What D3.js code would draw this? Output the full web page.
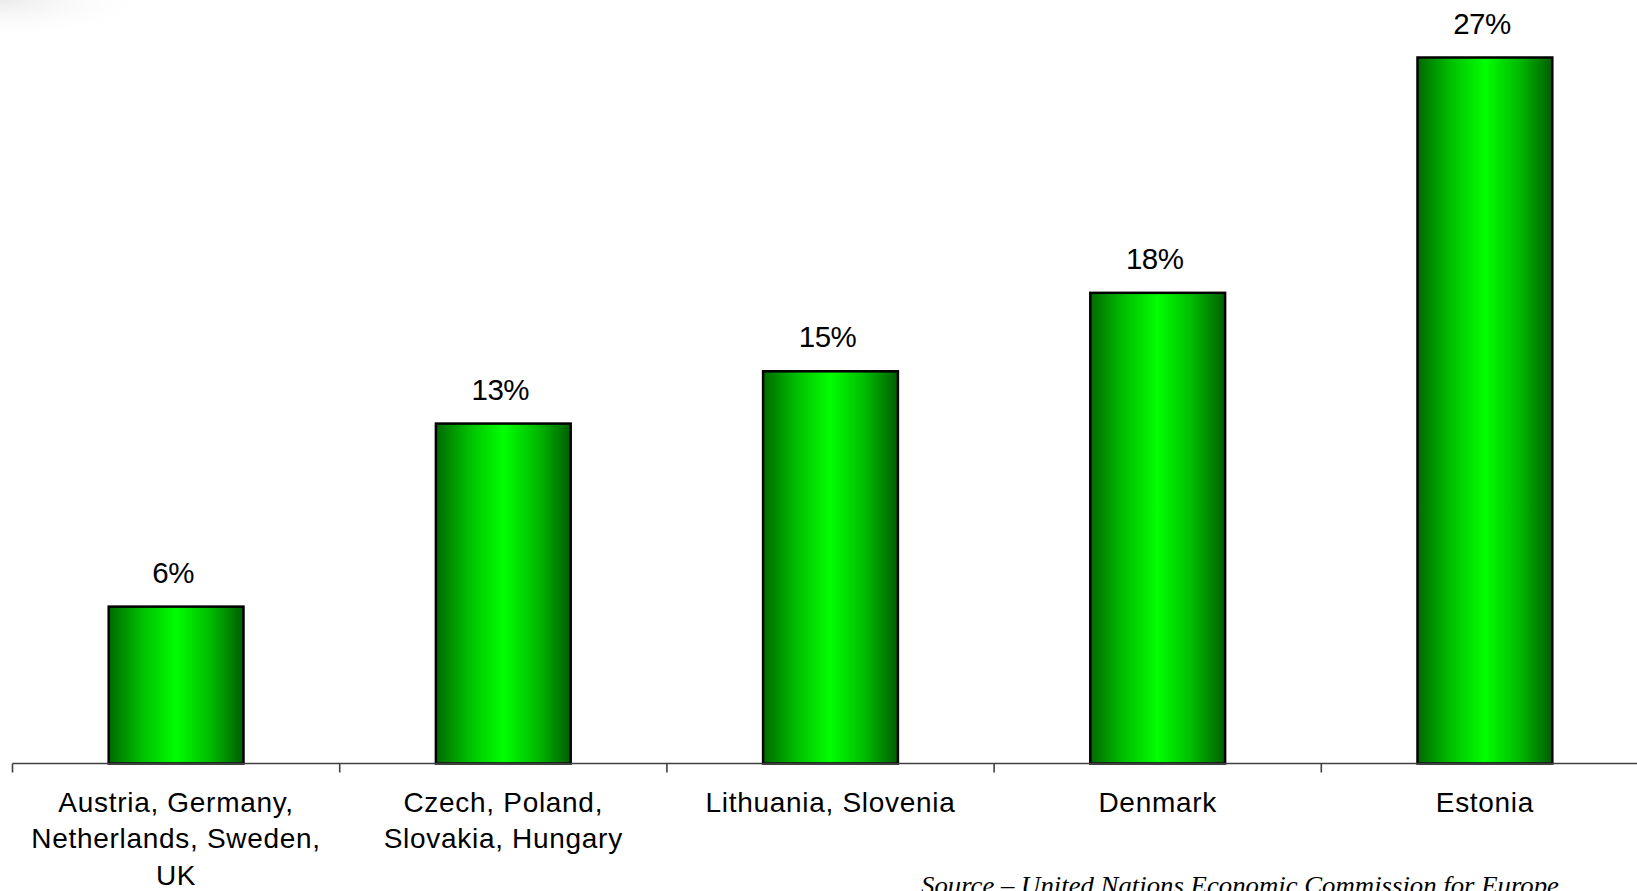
<!DOCTYPE html>
<html>
<head>
<meta charset="utf-8">
<script src="https://cdn.jsdelivr.net/npm/d3@7"></script>
<style>
  html, body { margin: 0; padding: 0; background: #ffffff; overflow: hidden; }
  svg { display: block; }
</style>
</head>
<body>
<svg id="chart" width="1637" height="891"></svg>
<script>
// ---- data ----
const categories = [
  "Austria, Germany,\nNetherlands, Sweden,\nUK",
  "Czech, Poland,\nSlovakia, Hungary",
  "Lithuania, Slovenia",
  "Denmark",
  "Estonia"
];
const values = [6, 13, 15, 18, 27];
const valueLabels = ["6%", "13%", "15%", "18%", "27%"];
const sourceText = "Source \u2013 United Nations Economic Commission for Europe";

// ---- layout ----
const W = 1637, H = 891;
const axisY = 763.5;
const left = 12.5;
const step = 327.2;

const svg = d3.select("#chart");
const defs = svg.append("defs");

// faint corner shadow (top-left)
const rg = defs.append("radialGradient").attr("id", "corner")
  .attr("cx", 0).attr("cy", 0).attr("r", 1);
rg.append("stop").attr("offset", "0%").attr("stop-color", "#e6e6e6").attr("stop-opacity", 0.8);
rg.append("stop").attr("offset", "100%").attr("stop-color", "#ffffff").attr("stop-opacity", 0);
svg.append("rect").attr("x", 0).attr("y", 0).attr("width", 160).attr("height", 40)
  .attr("fill", "url(#corner)");

// bar gradient
const lg = defs.append("linearGradient").attr("id", "barGrad")
  .attr("x1", "0%").attr("x2", "100%").attr("y1", "0%").attr("y2", "0%");
[[0, "#006a00"], [0.25, "#00c000"], [0.5, "#00ff00"], [0.75, "#00bc00"], [1, "#005e00"]]
  .forEach(([o, c]) => lg.append("stop").attr("offset", o).attr("stop-color", c));

const x = d3.scaleBand()
  .domain(categories)
  .range([left, left + step * categories.length])
  .paddingInner(0.588)
  .paddingOuter(0.294);

const y = d3.scaleLinear().domain([0, 27]).range([axisY, 57.5]);

// bars
svg.append("g").selectAll("rect")
  .data(values)
  .join("rect")
  .attr("x", (d, i) => x(categories[i]))
  .attr("y", d => y(d))
  .attr("width", x.bandwidth())
  .attr("height", d => axisY - y(d))
  .attr("fill", "url(#barGrad)")
  .attr("stroke", "#000")
  .attr("stroke-width", 2.5);

// axis line & ticks
const axisG = svg.append("g").attr("stroke", "#404040").attr("stroke-width", 1.6);
axisG.append("line").attr("x1", left).attr("x2", W).attr("y1", axisY).attr("y2", axisY);
const boundaries = d3.range(categories.length + 1).map(i => x.range()[0] + i * x.step());
axisG.selectAll("line.tick").data(boundaries).join("line").attr("class", "tick")
  .attr("x1", d => d).attr("x2", d => d).attr("y1", axisY).attr("y2", axisY + 9);

// value labels
svg.append("g").selectAll("text")
  .data(values)
  .join("text")
  .attr("x", (d, i) => x(categories[i]) + x.bandwidth() / 2 - 3)
  .attr("y", d => y(d) - 24)
  .attr("text-anchor", "middle")
  .attr("font-family", "Arial, 'Liberation Sans', sans-serif")
  .attr("font-size", 29.5)
  .attr("letter-spacing", -0.5)
  .attr("fill", "#000")
  .text((d, i) => valueLabels[i]);

// category labels
const catG = svg.append("g");
categories.forEach((c, i) => {
  const cx = x(c) + x.bandwidth() / 2;
  const t = catG.append("text")
    .attr("text-anchor", "middle")
    .attr("font-family", "Arial, 'Liberation Sans', sans-serif")
    .attr("font-size", 28)
    .attr("letter-spacing", 0.7)
    .attr("fill", "#000");
  c.split("\n").forEach((line, j) => {
    t.append("tspan").attr("x", cx).attr("y", 811.5 + j * 36.5).text(line);
  });
});

// source text (cut off at the bottom edge, as in the original)
svg.append("text")
  .attr("x", 921)
  .attr("y", 894)
  .attr("font-family", "'Times New Roman', 'Liberation Serif', serif")
  .attr("font-style", "italic")
  .attr("font-size", 26)
  .attr("textLength", 638)
  .attr("lengthAdjust", "spacingAndGlyphs")
  .attr("fill", "#000")
  .text(sourceText);
</script>
</body>
</html>
